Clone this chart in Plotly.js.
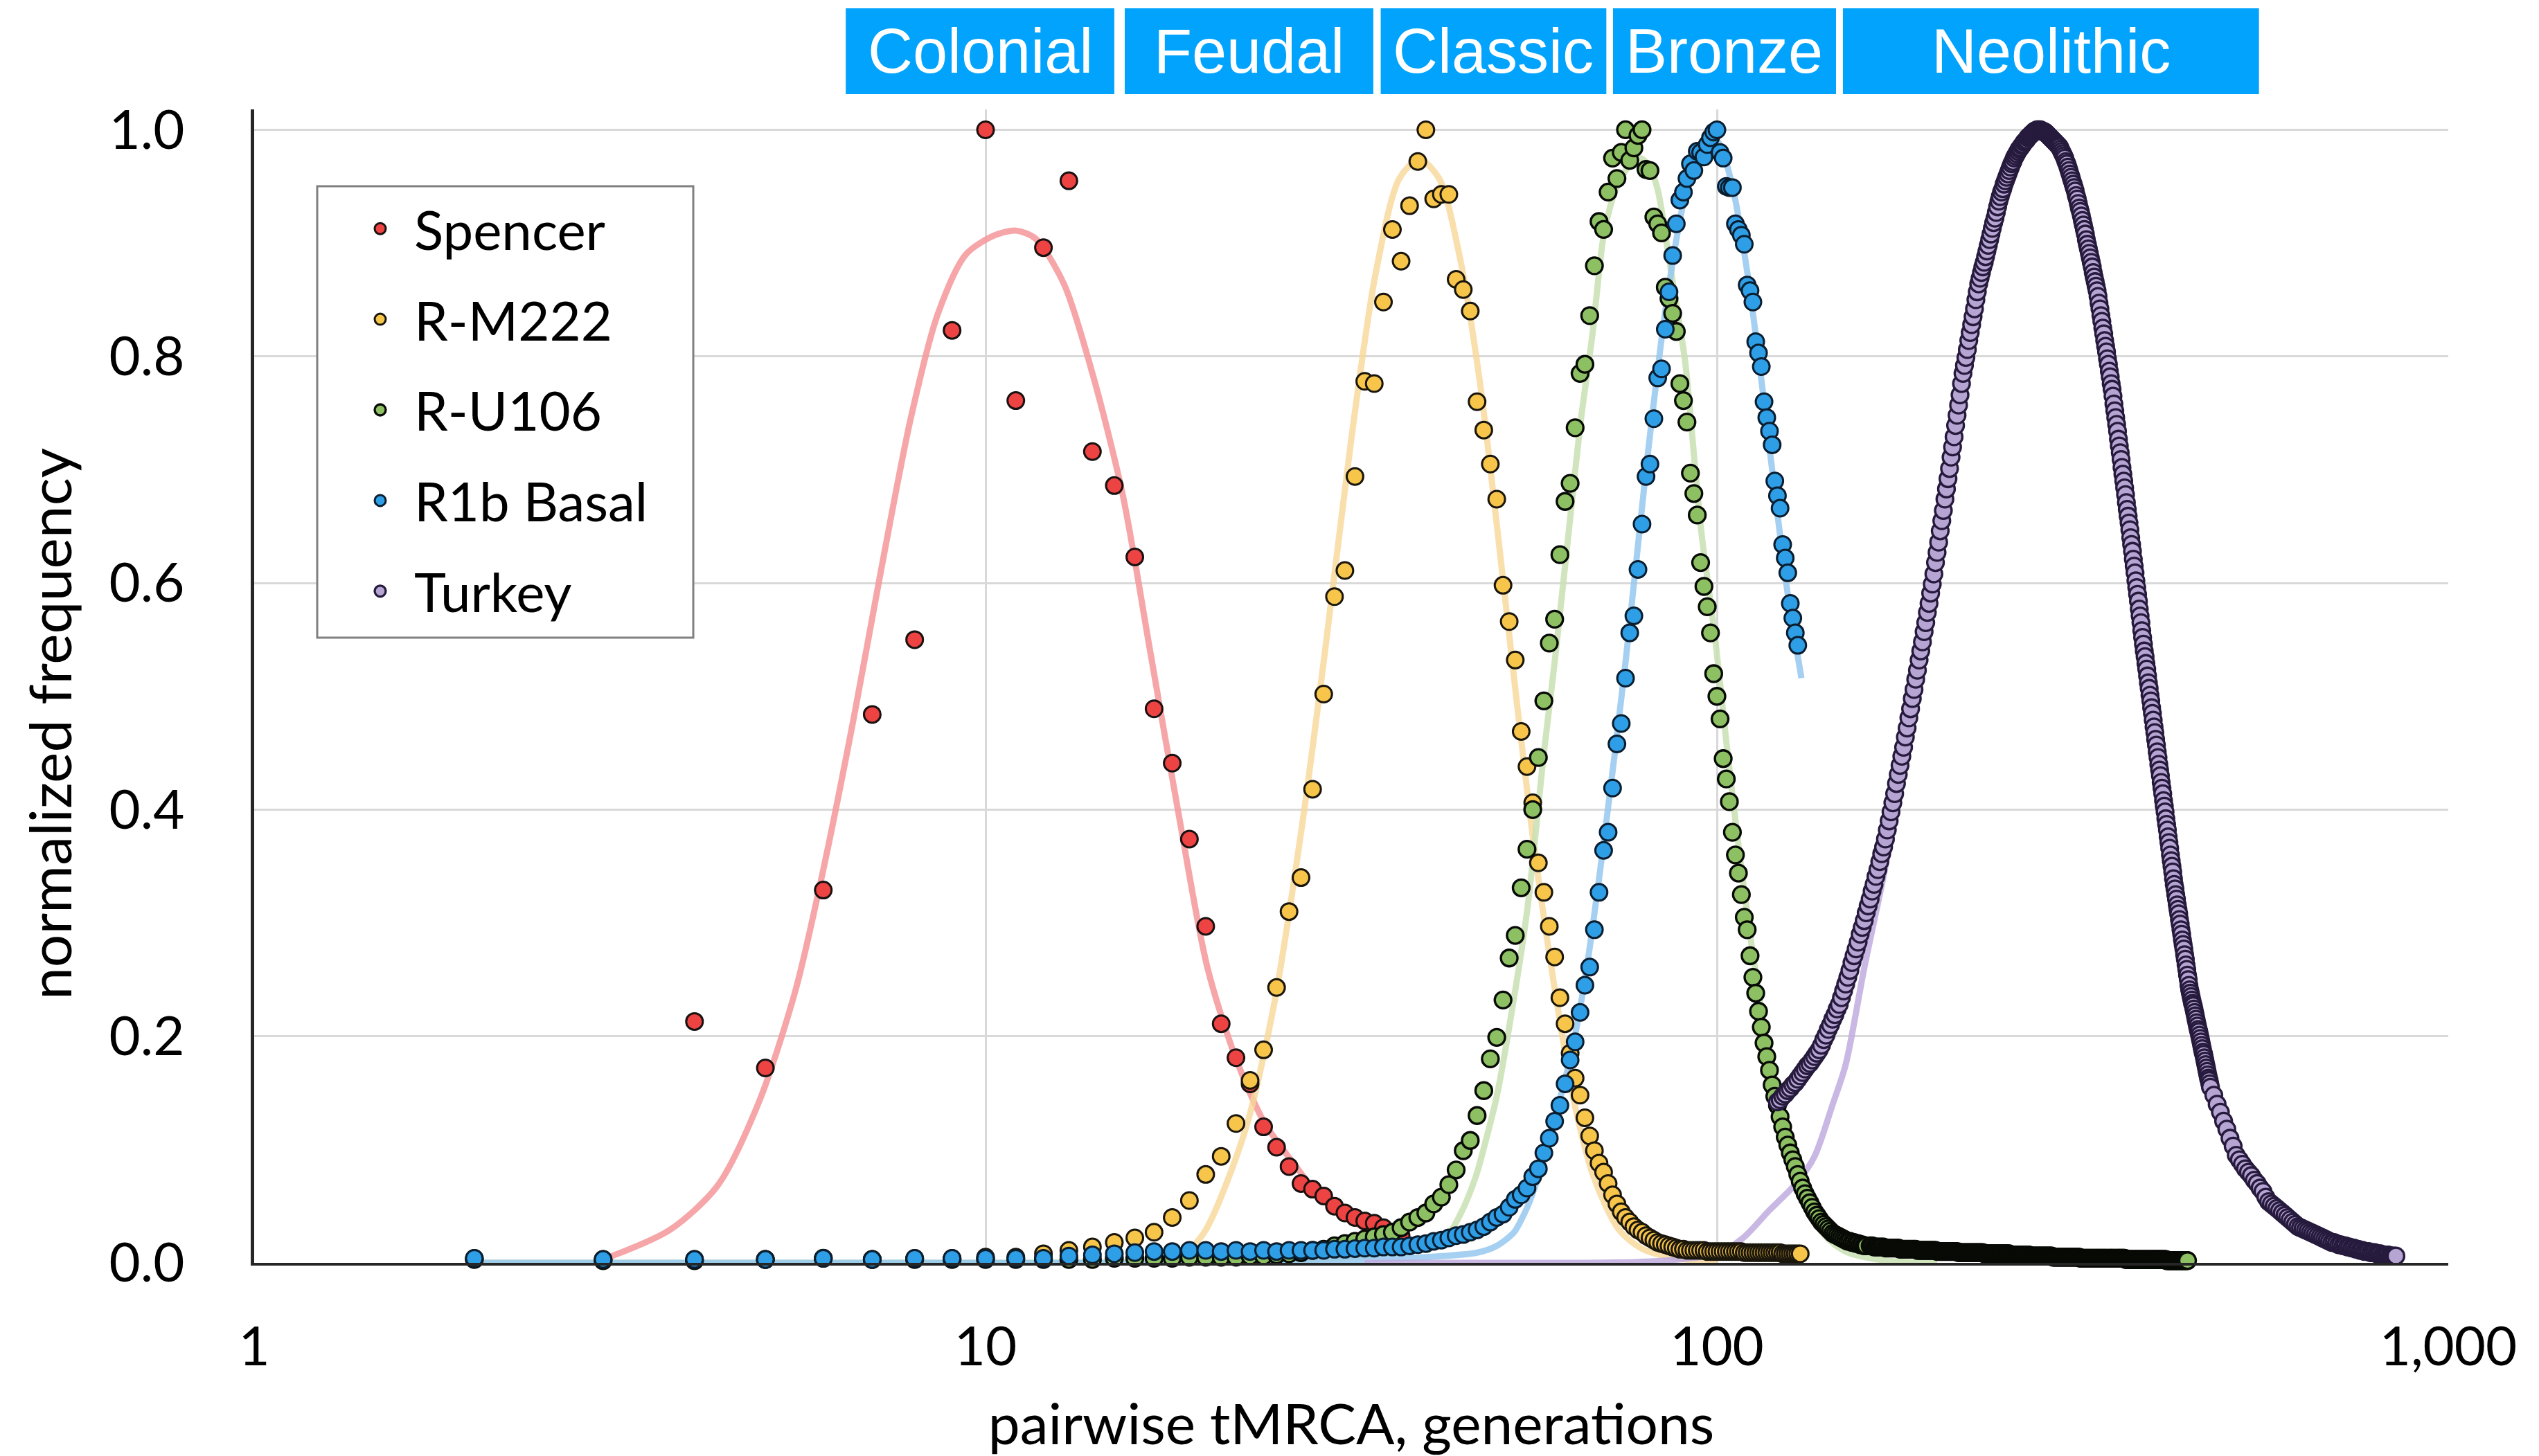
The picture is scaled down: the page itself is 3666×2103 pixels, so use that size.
<!DOCTYPE html>
<html>
<head>
<meta charset="utf-8">
<script src="https://cdn.plot.ly/plotly-3.0.1.min.js"></script>
<style>
html,body{margin:0;padding:0;background:#fff;}
#chart{width:3666px;height:2103px;}
</style>
</head>
<body>
<div id="chart"></div>
<script>
// ---------------- DATA ----------------
const seriesNames = ['Spencer', 'R-M222', 'R-U106', 'R1b Basal', 'Turkey'];

// Spencer: one value per generation starting at generation 4
const spencerFirstGen = 4;
const spencerFreq = [0.213,0.172,0.329,0.484,0.550,0.823,1.000,0.761,0.896,0.955,0.716,0.686,0.623,0.489,0.441,0.374,0.297,0.211,0.181,0.158,0.120,0.102,0.085,0.070,0.065,0.059,0.050,0.044,0.040,0.037,0.035,0.031,0.027,0.024];

// R-M222: one value per generation starting at generation 2 (to 130)
const m222FirstGen = 2;
const m222Freq = [
 0.004,0.003,0.003,0.003,0.004,0.003,0.004,0.004,0.005,0.005,
 0.008,0.011,0.014,0.018,
 0.022,0.027,0.040,0.055,0.078,0.094,0.123,0.161,0.188,0.243,0.310,0.340,0.418,0.502,0.588,0.611,0.694,0.778,0.776,0.848,0.912,0.884,0.933,0.972,1.000,
 0.939,0.943,0.943,0.868,0.859,0.840,0.760,0.735,0.705,0.674,0.598,0.566,0.532,0.469,0.438,0.406,0.353,0.327,0.297,0.270,0.234,0.211,
 0.185,0.163,0.148,0.128,0.112,0.099,0.088,0.080,0.070,0.060,0.052,0.045,0.040,0.036,0.032,0.029,0.027,0.024,0.022,0.020,0.018,0.017,0.016,0.015,0.014,0.013,0.012,0.012,
 0.011,0.011,0.011,0.011,0.011,0.011,0.010,0.010,0.010,0.010,
 0.010,0.010,0.010,0.010,0.010,0.010,0.010,0.010,0.009,0.009,
 0.009,0.009,0.009,0.009,0.009,0.009,0.009,0.009,0.009,0.009,
 0.009,0.009,0.008,0.008,0.008,0.008,0.008,0.008,0.008,0.008];

// R-U106: one value per generation from 2 to 160, then the tail from 162 to 440
const u106FirstGen = 2;
const u106Freq = [
 0.003,0.002,0.002,0.003,0.004,0.003,0.003,0.003,0.003,0.003,0.003,0.003,0.003,0.004,0.004,0.004,0.004,0.005,0.005,0.005,0.005,0.006,0.006,0.007,0.008,0.009,0.011,0.012,
 0.015,0.017,0.019,0.021,0.023,0.025,0.027,0.031,0.036,0.040,0.044,0.052,0.058,0.069,0.082,0.099,0.108,0.130,0.152,0.180,0.199,0.232,0.269,0.289,0.331,0.365,0.400,0.446,0.496,0.547,0.568,
 0.625,0.672,0.688,0.737,0.785,0.793,0.836,0.880,0.919,0.912,0.945,0.975,0.957,0.980,1.000,0.973,0.984,0.995,1.000,0.965,0.964,0.923,0.917,0.909,0.861,0.851,0.838,0.822,0.776,0.761,0.742,0.697,0.679,0.660,0.618,0.597,0.579,0.556,0.520,0.500,
 0.480,0.445,0.427,0.407,0.380,0.360,0.344,0.325,0.305,0.294,0.271,0.252,0.238,0.222,0.208,0.194,0.182,0.170,0.157,0.147,0.139,0.129,0.120,0.111,0.104,0.097,0.091,0.085,0.078,0.072,0.066,0.061,0.057,0.053,0.049,0.045,0.042,0.039,0.036,0.034,0.032,0.030,0.028,0.026,0.025,0.024,0.023,0.022,0.021,0.020,0.019,0.019,0.018,0.018,0.017,0.017,0.016,0.016,0.015,0.015];
const u106TailFirstGen = 162;
const u106TailStep = 1;
const u106TailFreq = [
 0.015,0.015,0.014,0.014,0.014,0.014,0.014,0.014,0.013,0.013,
 0.013,0.013,0.013,0.013,0.013,0.013,0.012,0.012,0.012,0.012,
 0.012,0.012,0.012,0.012,0.012,0.012,0.011,0.011,0.011,0.011,
 0.011,0.011,0.011,0.011,0.011,0.011,0.011,0.011,0.010,0.010,
 0.010,0.010,0.010,0.010,0.010,0.010,0.010,0.010,0.010,0.010,
 0.010,0.010,0.009,0.009,0.009,0.009,0.009,0.009,0.009,0.009,
 0.009,0.009,0.009,0.009,0.009,0.009,0.009,0.009,0.009,0.009,
 0.008,0.008,0.008,0.008,0.008,0.008,0.008,0.008,0.008,0.008,
 0.008,0.008,0.008,0.008,0.008,0.008,0.008,0.008,0.008,0.008,
 0.007,0.007,0.007,0.007,0.007,0.007,0.007,0.007,0.007,0.007,
 0.007,0.007,0.007,0.007,0.007,0.007,0.006,0.006,0.006,0.006,
 0.006,0.006,0.006,0.006,0.006,0.006,0.006,0.006,0.006,0.006,
 0.006,0.006,0.006,0.006,0.006,0.006,0.005,0.005,0.005,0.005,
 0.005,0.005,0.005,0.005,0.005,0.005,0.005,0.005,0.005,0.005,
 0.005,0.005,0.005,0.005,0.005,0.005,0.005,0.005,0.005,0.005,
 0.005,0.005,0.004,0.004,0.004,0.004,0.004,0.004,0.004,0.004,
 0.004,0.004,0.004,0.004,0.004,0.004,0.004,0.004,0.004,0.004,
 0.004,0.004,0.004,0.004,0.004,0.004,0.004,0.004,0.004,0.004,
 0.004,0.004,0.004,0.004,0.004,0.004,0.004,0.004,0.004,0.004,
 0.004,0.004,0.004,0.004,0.004,0.004,0.004,0.004,0.004,0.004,
 0.003,0.003,0.003,0.003,0.003,0.003,0.003,0.003,0.003,0.003,
 0.003,0.003,0.003,0.003,0.003,0.003,0.003,0.003,0.003,0.003,
 0.003,0.003,0.003,0.003,0.003,0.003,0.003,0.003,0.003,0.003,
 0.003,0.003,0.003,0.003,0.003,0.003,0.003,0.003,0.003,0.003,
 0.003,0.003,0.003,0.003,0.003,0.003,0.003,0.003,0.003,0.003,
 0.002,0.002,0.002,0.002,0.002,0.002,0.002,0.002,0.002,0.002,
 0.002,0.002,0.002,0.002,0.002,0.002,0.002,0.002,0.002,0.002,
 0.002,0.002,0.002,0.002,0.002,0.002,0.002,0.002,0.002];

// R1b Basal: one value per generation from 2 to 129
const r1bFirstGen = 2;
const r1bFreq = [
 0.004,0.003,0.003,0.003,0.004,0.003,0.004,0.004,0.004,0.004,0.004,0.006,0.007,0.008,0.009,0.010,0.010,0.011,0.011,0.010,0.011,0.010,0.011,0.010,0.011,0.011,0.011,0.011,
 0.012,0.012,0.0125,0.013,0.013,0.014,0.014,0.014,0.015,0.016,0.017,0.019,0.020,0.022,0.024,0.025,0.027,0.029,0.032,0.036,0.040,0.043,0.049,0.056,0.060,0.066,0.076,0.083,0.097,0.110,0.125,0.139,0.158,
 0.179,0.195,0.221,0.245,0.261,0.294,0.327,0.364,0.380,0.419,0.458,0.476,0.516,0.556,0.571,0.612,0.652,0.694,0.705,0.745,0.781,0.789,0.824,0.857,0.889,0.917,0.938,0.945,0.957,0.970,0.964,0.981,0.980,0.976,0.987,0.993,0.998,1.000,
 0.980,0.975,0.950,0.949,0.949,0.917,0.912,0.907,0.899,0.863,0.858,0.848,0.813,0.803,0.791,0.760,0.746,0.734,0.722,0.690,0.677,0.666,0.634,0.622,0.609,0.582,0.569,0.556,0.545];

// Turkey: one value per generation from 121 to 473, then every 5th generation to 848
const turkeyFirstGen = 121;
const turkeyFreq = [
 0.142,0.144,0.147,0.149,0.152,0.154,0.157,0.159,0.162,
 0.165,0.168,0.171,0.174,0.176,0.179,0.182,0.185,0.188,
 0.192,0.197,0.201,0.206,0.210,0.215,0.219,0.224,0.228,
 0.234,0.240,0.246,0.252,0.258,0.265,0.271,
 0.277,0.283,0.290,0.296,0.302,0.309,0.315,0.321,
 0.328,0.334,0.341,0.347,0.354,0.361,0.367,0.374,
 0.382,0.390,0.398,0.406,0.414,0.423,0.431,0.439,0.447,
 0.455,0.464,0.472,0.481,0.489,0.498,0.506,0.515,0.523,
 0.532,0.540,0.548,0.557,0.565,0.574,0.582,0.591,0.599,
 0.608,0.618,0.627,0.636,0.646,0.655,0.664,0.674,0.683,0.692,
 0.701,0.711,0.720,0.729,0.739,0.748,0.757,0.766,0.776,0.785,
 0.792,0.799,0.806,0.814,0.821,0.828,0.835,0.842,0.850,0.857,0.864,
 0.869,0.874,0.879,0.883,0.888,0.893,0.898,0.903,0.908,0.913,0.918,0.922,0.927,0.932,0.937,
 0.941,0.945,0.948,0.952,0.955,0.958,0.961,0.964,0.967,0.970,0.972,0.975,0.977,0.979,0.981,0.983,
 0.984,0.986,0.987,0.989,0.990,0.991,0.993,0.994,0.995,0.996,0.997,0.998,0.999,0.999,1.000,1.000,
 1.000,1.000,0.999,0.999,0.998,0.998,0.997,0.996,0.995,0.994,0.993,0.992,0.991,0.990,0.989,0.988,0.987,0.986,0.985,0.983,
 0.981,0.979,0.977,0.975,0.972,0.970,0.967,0.964,0.961,0.958,0.955,0.952,0.949,0.946,0.942,0.939,0.935,0.931,0.928,0.924,
 0.920,0.916,0.912,0.908,0.903,0.899,0.895,0.891,0.887,0.883,0.879,0.874,0.870,0.866,0.862,0.858,
 0.853,0.847,0.842,0.836,0.831,0.825,0.820,0.814,0.809,0.804,0.798,0.793,0.787,0.782,0.776,0.771,
 0.765,0.758,0.752,0.746,0.740,0.734,0.727,0.721,0.715,0.709,0.702,0.696,0.690,0.684,0.678,0.671,0.665,0.659,
 0.653,0.647,0.640,0.634,0.628,0.621,0.615,0.609,0.602,0.596,0.590,0.584,0.577,0.571,0.565,0.558,0.552,0.546,
 0.540,0.535,0.529,0.524,0.518,0.512,0.507,0.501,0.496,0.490,0.485,0.479,0.473,0.468,0.462,0.457,0.451,0.446,0.440,
 0.435,0.430,0.424,0.419,0.414,0.408,0.403,0.398,0.392,0.387,0.382,0.376,0.371,0.366,0.360,0.355,0.350,0.345,0.339,0.334,
 0.330,0.325,0.321,0.316,0.312,0.308,0.303,0.299,0.294,0.290,0.285,0.281,0.277,0.272,0.268,0.263,0.259,0.254,0.250,0.245,0.241,
 0.238,0.235,0.232,0.229,0.227,0.224,0.221,0.218,0.215,0.212,0.209,0.206,0.204,0.201,0.198,0.195,0.192,0.189,0.186,0.184,0.181,0.178,0.175,0.172,0.169,0.166,0.163,0.161,0.158,0.155];
const turkeyTailFirstGen = 478;
const turkeyTailStep = 5;
const turkeyTailFreq = [
 0.148,0.140,0.133,0.125,0.118,0.110,0.103,0.095,
 0.091,0.087,0.083,0.080,0.077,0.073,0.070,0.066,0.063,0.058,
 0.054,0.052,0.050,0.048,0.046,0.044,0.042,0.040,0.038,0.036,0.034,0.032,
 0.031,0.030,0.029,0.028,0.027,0.026,0.025,0.024,0.023,0.022,0.021,0.020,0.019,0.018,0.018,0.017,0.016,
 0.016,0.015,0.015,0.014,0.014,0.013,0.013,0.012,0.012,0.011,0.011,0.010,0.010,0.010,0.009,0.009,0.009,0.008,0.008,0.008,0.007,0.007,0.007,0.007,0.006,0.006,0.006,0.006];

// Fitted curves
const spencerFitGen  = [3,3.7,4.3,4.9,5.5,6.0,6.6,7.2,7.9,8.6,9.4,10.3,11.0,11.7,12.8,14.0,15.4,16.8,18.4,20.1,22.0,24.0,26.5,29.0,32.5,35.0];
const spencerFitFreq = [0.003,0.029,0.068,0.142,0.241,0.347,0.480,0.612,0.745,0.837,0.890,0.907,0.911,0.904,0.864,0.785,0.678,0.539,0.393,0.261,0.180,0.125,0.086,0.055,0.033,0.024];
const m222FitGen  = [17.5,18.8,20.0,22.6,24.8,27.1,29.2,31.6,34.1,36.8,39.2,41.7,44.4,47.4,50.0,53.3,56.4,59.8,63.8,67.9,73.5,79.2,88,100];
const m222FitFreq = [0.000,0.009,0.029,0.115,0.228,0.387,0.546,0.725,0.871,0.957,0.974,0.957,0.891,0.778,0.652,0.493,0.361,0.248,0.142,0.075,0.029,0.012,0.004,0.001];
const u106FitGen  = [2,5,10,20,30,38,42.6,44.6,46.8,48.4,50,51.5,55,58,60,62.9,65.2,67.6,70.1,72.7,75.6,78.2,80.5,83,85.5,88,90.5,93.6,95.3,99.5,103,107.4,111,116,120,125,130,140,150,170,200];
const u106FitFreq = [0,0,0,0.001,0.004,0.012,0.023,0.043,0.076,0.11,0.147,0.192,0.31,0.45,0.53,0.653,0.745,0.82,0.909,0.947,0.967,0.975,0.97,0.947,0.897,0.846,0.795,0.694,0.643,0.55,0.46,0.36,0.29,0.208,0.155,0.095,0.06,0.025,0.01,0.002,0];
const r1bFitGen  = [2,10,20,30,40,47,50,52.8,54.5,55.6,58.6,60.8,63,66,70,75,80,85,90,95,100,105,110,115,120,125,130.5];
const r1bFitFreq = [0,0,0,0.002,0.005,0.009,0.015,0.027,0.043,0.056,0.10,0.141,0.18,0.25,0.37,0.53,0.70,0.84,0.935,0.98,0.99,0.95,0.875,0.78,0.68,0.59,0.516];
const turkeyFitGen  = [33,60,80,100,108.6,117.8,128.3,136,144,150,159,170,185,200,217,235,255,275,295,315,347,383,422,473,513,565,623,710,848];
const turkeyFitFreq = [0,0,0.001,0.008,0.022,0.046,0.07,0.094,0.14,0.175,0.26,0.35,0.49,0.63,0.785,0.90,0.975,0.995,0.98,0.92,0.77,0.545,0.334,0.155,0.09,0.05,0.028,0.013,0.005];

// Era bands above the plot (generation ranges)
const eraNames   = ['Colonial', 'Feudal', 'Classic', 'Bronze', 'Neolithic'];
const eraFromGen = [6.44, 15.5, 34.7, 72.1, 148.7];
const eraToGen   = [15.0, 33.9, 70.6, 145.5, 551];

// Axis ticks and titles
const xTickVals = [1, 10, 100, 1000];
const xTickText = ['1', '10', '100', '1,000'];
const yTickVals = [0, 0.2, 0.4, 0.6, 0.8, 1.0];
const yTickText = ['0.0', '0.2', '0.4', '0.6', '0.8', '1.0'];
const xTitle = 'pairwise tMRCA, generations';
const yTitle = 'normalized frequency';

// ---------------- BUILD ----------------
function gens(first, step, n) { const a = []; for (let i = 0; i < n; i++) a.push(first + i * step); return a; }

const fillColors = ['#EE4343', '#F7C54A', '#8DC063', '#2E9EE6', '#B6A5D3'];
const edgeColors = ['#1a1111', '#1a160c', '#070a05', '#0a1e30', '#261a3d'];
const edgeWidths = [3, 3, 3.3, 3, 3.3];
const fitColors  = ['rgba(244,150,153,0.85)', 'rgba(248,215,150,0.8)', 'rgba(200,224,178,0.85)', 'rgba(150,200,238,0.85)', 'rgba(190,172,222,0.85)'];

const fitSets = [
  [spencerFitGen, spencerFitFreq], [m222FitGen, m222FitFreq], [u106FitGen, u106FitFreq],
  [r1bFitGen, r1bFitFreq], [turkeyFitGen, turkeyFitFreq]
];
const pointSets = [
  [gens(spencerFirstGen, 1, spencerFreq.length), spencerFreq],
  [gens(m222FirstGen, 1, m222Freq.length), m222Freq],
  [gens(u106FirstGen, 1, u106Freq.length).concat(gens(u106TailFirstGen, u106TailStep, u106TailFreq.length)), u106Freq.concat(u106TailFreq)],
  [gens(r1bFirstGen, 1, r1bFreq.length), r1bFreq],
  [gens(turkeyFirstGen, 1, turkeyFreq.length).concat(gens(turkeyTailFirstGen, turkeyTailStep, turkeyTailFreq.length)), turkeyFreq.concat(turkeyTailFreq)]
];

const traces = [];
fitSets.forEach((s, i) => {
  traces.push({
    type: 'scatter', mode: 'lines', x: s[0], y: s[1], showlegend: false, hoverinfo: 'skip',
    line: { color: fitColors[i], width: 9, shape: 'spline', smoothing: 0.8 }, cliponaxis: false
  });
});
pointSets.forEach((s, i) => {
  traces.push({
    type: 'scatter', mode: 'markers', name: seriesNames[i], legendgroup: 'g' + i,
    x: s[0], y: s[1], cliponaxis: false,
    marker: { size: 24, color: fillColors[i], line: { color: edgeColors[i], width: edgeWidths[i] } }
  });
});

// layout geometry (px)
const W = 3666, H = 2103, mL = 367, mR = 131, mT = 158, mB = 279;
const plotW = W - mL - mR, plotH = H - mT - mB;
const pyTop = 12, pyBot = 136;
const bandY0 = (H - mB - pyBot) / plotH, bandY1 = (H - mB - pyTop) / plotH;

const shapes = [];
const annotations = [];
eraNames.forEach((name, i) => {
  const x0 = Math.log10(eraFromGen[i]) / 3, x1 = Math.log10(eraToGen[i]) / 3;
  shapes.push({ type: 'rect', xref: 'paper', yref: 'paper', x0: x0, x1: x1, y0: bandY0, y1: bandY1,
    fillcolor: '#02A3FD', line: { width: 0 }, layer: 'above' });
  annotations.push({ xref: 'paper', yref: 'paper', x: (x0 + x1) / 2, y: (bandY0 + bandY1) / 2,
    xanchor: 'center', yanchor: 'middle', showarrow: false, text: name,
    font: { family: 'Liberation Sans, Arial, sans-serif', size: 90, color: '#ffffff' } });
});
// y-axis title (placed slightly below the axis centre, as in the reference)
annotations.push({ xref: 'paper', yref: 'paper', x: (70 - mL) / plotW, y: (H - mB - 1046) / plotH,
  xanchor: 'center', yanchor: 'middle', showarrow: false, textangle: -90, text: yTitle,
  font: { family: 'Lato, sans-serif', size: 84, color: '#000' } });
// legend frame
shapes.push({ type: 'rect', xref: 'paper', yref: 'paper',
  x0: (458 - mL) / plotW, x1: (1001 - mL) / plotW,
  y0: (H - mB - 921) / plotH, y1: (H - mB - 269) / plotH,
  fillcolor: '#ffffff', line: { color: '#808080', width: 3 }, layer: 'above' });

const layout = {
  width: W, height: H,
  margin: { l: mL, r: mR, t: mT, b: mB, pad: 0 },
  paper_bgcolor: '#ffffff', plot_bgcolor: '#ffffff',
  font: { family: 'Lato, sans-serif', color: '#000000', size: 76 },
  showlegend: true,
  legend: {
    x: (500 - mL) / plotW, y: (H - mB - 273) / plotH, xanchor: 'left', yanchor: 'top',
    bgcolor: 'rgba(0,0,0,0)', borderwidth: 0, itemwidth: 88, tracegroupgap: 26.5, traceorder: 'grouped',
    font: { family: 'Lato, sans-serif', size: 78, color: '#000000' }
  },
  xaxis: {
    type: 'log', range: [0, 3], tickvals: xTickVals, ticktext: xTickText,
    showgrid: true, gridcolor: '#D9D9D9', gridwidth: 3, zeroline: false,
    showline: true, linecolor: '#262626', linewidth: 4,
    ticks: 'outside', ticklen: 50, tickcolor: 'rgba(0,0,0,0)',
    tickfont: { family: 'Lato, sans-serif', size: 78, color: '#000' },
    title: { text: xTitle, standoff: 50,
      font: { family: 'Lato, sans-serif', size: 82, color: '#000' } }
  },
  yaxis: {
    range: [0, 1.018], tickvals: yTickVals, ticktext: yTickText,
    showgrid: true, gridcolor: '#D9D9D9', gridwidth: 3, zeroline: false,
    showline: true, linecolor: '#262626', linewidth: 5,
    ticks: 'outside', ticklen: 80, tickcolor: 'rgba(0,0,0,0)',
    tickfont: { family: 'Lato, sans-serif', size: 78, color: '#000' },
    title: { text: '' }
  },
  shapes: shapes,
  annotations: annotations
};

Plotly.newPlot('chart', traces, layout, { displayModeBar: false, staticPlot: true });
</script>
</body>
</html>
